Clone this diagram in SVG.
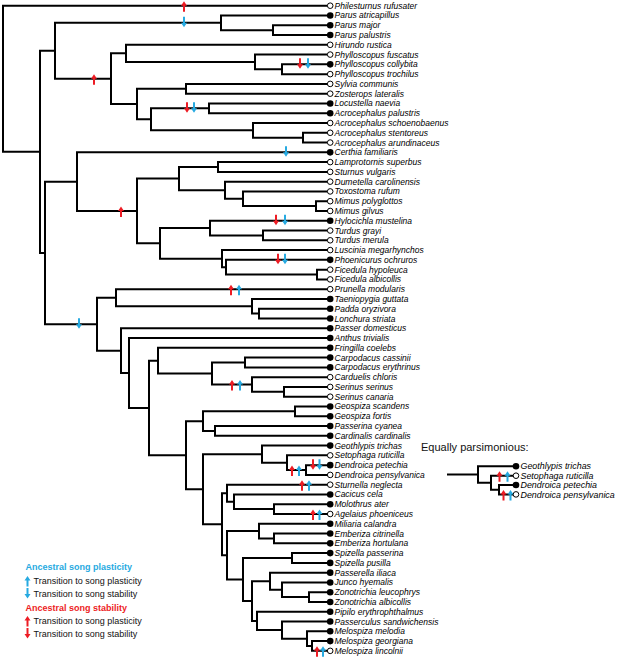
<svg xmlns="http://www.w3.org/2000/svg" xmlns:xlink="http://www.w3.org/1999/xlink" width="617" height="659" viewBox="0 0 617 659">
<style>
.br{fill:none;stroke:#000;stroke-width:2;stroke-linecap:square;stroke-linejoin:miter}
.lab{font-family:"Liberation Sans",Arial,sans-serif;font-style:italic;font-size:8.5px;fill:#000}
.ilab{font-family:"Liberation Sans",Arial,sans-serif;font-style:italic;font-size:8.9px;fill:#000}
.f{fill:#000;stroke:none}
.o{fill:#fff;stroke:#000;stroke-width:1}
.r{fill:#ed1c24}
.c{fill:#27aae1}
.leg{font-family:"Liberation Sans",Arial,sans-serif;font-size:9px;fill:#111}
.legh{font-family:"Liberation Sans",Arial,sans-serif;font-size:9px;font-weight:bold}
.title{font-family:"Liberation Sans",Arial,sans-serif;font-size:11px;fill:#111}
</style>
<defs>
<path id="up" d="M0,-4.5 L3,0 H1 V6 H-1 V0 H-3 Z"/>
<path id="dn" d="M0,4.5 L3,0 H1 V-6 H-1 V0 H-3 Z"/>
</defs>
<rect width="617" height="659" fill="#fff"/>
<g id="connectors" class="br">
<path d="M327,5.7 H3 V151.84 H40"/>
<path d="M55,50.76 H40 V252.92 H45"/>
<path d="M221,22.81 H55 V78.71 H111"/>
<path d="M327,15.48 H221 V30.14 H273"/>
<path d="M327,25.25 H273 V35.03 H327"/>
<path d="M126,53.36 H111 V104.06 H137"/>
<path d="M327,44.8 H126 V61.91 H255"/>
<path d="M327,54.58 H255 V69.24 H282"/>
<path d="M327,64.35 H282 V74.13 H327"/>
<path d="M186,88.79 H137 V119.34 H151"/>
<path d="M327,83.9 H186 V93.68 H327"/>
<path d="M209,108.34 H151 V130.33 H253"/>
<path d="M327,103.45 H209 V113.23 H327"/>
<path d="M327,123 H253 V137.67 H303"/>
<path d="M327,132.78 H303 V142.55 H327"/>
<path d="M77,181.66 H45 V324.18 H97"/>
<path d="M327,152.33 H77 V210.98 H137"/>
<path d="M179,178.6 H137 V243.36 H160"/>
<path d="M218,166.99 H179 V190.2 H225"/>
<path d="M327,162.1 H218 V171.88 H327"/>
<path d="M327,181.65 H225 V198.76 H243"/>
<path d="M327,191.43 H243 V206.09 H316"/>
<path d="M327,201.2 H316 V210.98 H327"/>
<path d="M210,228.08 H160 V258.63 H222"/>
<path d="M327,220.75 H210 V235.42 H263"/>
<path d="M327,230.53 H263 V240.3 H327"/>
<path d="M327,250.08 H222 V267.18 H226"/>
<path d="M327,259.85 H226 V274.52 H317"/>
<path d="M327,269.63 H317 V279.4 H327"/>
<path d="M116,297.73 H97 V350.63 H121"/>
<path d="M327,289.18 H116 V306.28 H252"/>
<path d="M327,298.95 H252 V313.62 H259"/>
<path d="M327,308.73 H259 V318.5 H327"/>
<path d="M327,328.28 H121 V372.98 H129"/>
<path d="M327,338.05 H129 V407.92 H149"/>
<path d="M158,360.66 H149 V455.17 H186"/>
<path d="M327,347.83 H158 V373.49 H212"/>
<path d="M245,362.49 H212 V384.48 H252"/>
<path d="M327,357.6 H245 V367.38 H327"/>
<path d="M327,377.15 H252 V391.82 H284"/>
<path d="M327,386.93 H284 V396.7 H327"/>
<path d="M203,421.14 H186 V489.2 H203"/>
<path d="M295,411.37 H203 V430.92 H215"/>
<path d="M327,406.48 H295 V416.25 H327"/>
<path d="M327,426.03 H215 V435.8 H327"/>
<path d="M262,454.13 H203 V524.28 H222"/>
<path d="M327,445.58 H262 V462.68 H287"/>
<path d="M327,455.35 H287 V470.02 H306"/>
<path d="M327,465.13 H306 V474.9 H327"/>
<path d="M227,493.23 H222 V555.32 H227"/>
<path d="M327,484.68 H227 V501.78 H234"/>
<path d="M327,494.45 H234 V509.12 H274"/>
<path d="M327,504.23 H274 V514 H327"/>
<path d="M259,531.11 H227 V579.52 H243"/>
<path d="M327,523.78 H259 V538.44 H274"/>
<path d="M327,533.55 H274 V543.33 H327"/>
<path d="M292,557.99 H243 V601.06 H252"/>
<path d="M327,553.1 H292 V562.88 H327"/>
<path d="M270,581.2 H252 V620.92 H257"/>
<path d="M327,572.65 H270 V589.76 H282"/>
<path d="M327,582.43 H282 V597.09 H309"/>
<path d="M327,592.2 H309 V601.98 H327"/>
<path d="M327,611.75 H257 V630.08 H282"/>
<path d="M327,621.53 H282 V638.63 H307"/>
<path d="M327,631.3 H307 V645.97 H312"/>
<path d="M327,641.08 H312 V650.85 H327"/>
</g>
<g id="arrows">
<use href="#up" class="r" x="184" y="5.7"/>
<use href="#dn" class="c" x="184" y="22.81"/>
<use href="#up" class="r" x="94" y="78.71"/>
<use href="#dn" class="r" x="300" y="64.35"/>
<use href="#dn" class="c" x="308" y="64.35"/>
<use href="#dn" class="r" x="187" y="108.34"/>
<use href="#dn" class="c" x="194" y="108.34"/>
<use href="#dn" class="c" x="286" y="152.33"/>
<use href="#up" class="r" x="121" y="210.98"/>
<use href="#dn" class="r" x="276" y="220.75"/>
<use href="#dn" class="c" x="285" y="220.75"/>
<use href="#dn" class="r" x="278" y="259.85"/>
<use href="#dn" class="c" x="285" y="259.85"/>
<use href="#up" class="r" x="231" y="289.18"/>
<use href="#up" class="c" x="239" y="289.18"/>
<use href="#dn" class="c" x="79" y="324.18"/>
<use href="#up" class="r" x="232" y="384.48"/>
<use href="#up" class="c" x="240" y="384.48"/>
<use href="#up" class="r" x="292" y="470.02"/>
<use href="#up" class="c" x="299" y="470.02"/>
<use href="#dn" class="r" x="313" y="465.13"/>
<use href="#dn" class="c" x="319.5" y="465.13"/>
<use href="#up" class="r" x="302" y="484.68"/>
<use href="#up" class="c" x="309" y="484.68"/>
<use href="#up" class="r" x="313" y="514"/>
<use href="#up" class="c" x="319.5" y="514"/>
<use href="#up" class="r" x="317" y="650.85"/>
<use href="#up" class="c" x="323" y="650.85"/>
</g>
<g class="lab">
<g id="t0"><circle class="o" cx="330.2" cy="5.7" r="2.8"/><text x="334.5" y="8.7">Philesturnus rufusater</text></g>
<g id="t1"><circle class="f" cx="330.2" cy="15.48" r="3.3"/><text x="334.5" y="18.48">Parus atricapillus</text></g>
<g id="t2"><circle class="f" cx="330.2" cy="25.25" r="3.3"/><text x="334.5" y="28.25">Parus major</text></g>
<g id="t3"><circle class="f" cx="330.2" cy="35.03" r="3.3"/><text x="334.5" y="38.03">Parus palustris</text></g>
<g id="t4"><circle class="o" cx="330.2" cy="44.8" r="2.8"/><text x="334.5" y="47.8">Hirundo rustica</text></g>
<g id="t5"><circle class="o" cx="330.2" cy="54.58" r="2.8"/><text x="334.5" y="57.58">Phylloscopus fuscatus</text></g>
<g id="t6"><circle class="f" cx="330.2" cy="64.35" r="3.3"/><text x="334.5" y="67.35">Phylloscopus collybita</text></g>
<g id="t7"><circle class="o" cx="330.2" cy="74.13" r="2.8"/><text x="334.5" y="77.13">Phylloscopus trochilus</text></g>
<g id="t8"><circle class="o" cx="330.2" cy="83.9" r="2.8"/><text x="334.5" y="86.9">Sylvia communis</text></g>
<g id="t9"><circle class="o" cx="330.2" cy="93.68" r="2.8"/><text x="334.5" y="96.68">Zosterops lateralis</text></g>
<g id="t10"><circle class="f" cx="330.2" cy="103.45" r="3.3"/><text x="334.5" y="106.45">Locustella naevia</text></g>
<g id="t11"><circle class="f" cx="330.2" cy="113.23" r="3.3"/><text x="334.5" y="116.23">Acrocephalus palustris</text></g>
<g id="t12"><circle class="o" cx="330.2" cy="123" r="2.8"/><text x="334.5" y="126">Acrocephalus schoenobaenus</text></g>
<g id="t13"><circle class="o" cx="330.2" cy="132.78" r="2.8"/><text x="334.5" y="135.78">Acrocephalus stentoreus</text></g>
<g id="t14"><circle class="o" cx="330.2" cy="142.55" r="2.8"/><text x="334.5" y="145.55">Acrocephalus arundinaceus</text></g>
<g id="t15"><circle class="f" cx="330.2" cy="152.33" r="3.3"/><text x="334.5" y="155.33">Certhia familiaris</text></g>
<g id="t16"><circle class="o" cx="330.2" cy="162.1" r="2.8"/><text x="334.5" y="165.1">Lamprotornis superbus</text></g>
<g id="t17"><circle class="o" cx="330.2" cy="171.88" r="2.8"/><text x="334.5" y="174.88">Sturnus vulgaris</text></g>
<g id="t18"><circle class="o" cx="330.2" cy="181.65" r="2.8"/><text x="334.5" y="184.65">Dumetella carolinensis</text></g>
<g id="t19"><circle class="o" cx="330.2" cy="191.43" r="2.8"/><text x="334.5" y="194.43">Toxostoma rufum</text></g>
<g id="t20"><circle class="o" cx="330.2" cy="201.2" r="2.8"/><text x="334.5" y="204.2">Mimus polyglottos</text></g>
<g id="t21"><circle class="o" cx="330.2" cy="210.98" r="2.8"/><text x="334.5" y="213.98">Mimus gilvus</text></g>
<g id="t22"><circle class="f" cx="330.2" cy="220.75" r="3.3"/><text x="334.5" y="223.75">Hylocichla mustelina</text></g>
<g id="t23"><circle class="o" cx="330.2" cy="230.53" r="2.8"/><text x="334.5" y="233.53">Turdus grayi</text></g>
<g id="t24"><circle class="o" cx="330.2" cy="240.3" r="2.8"/><text x="334.5" y="243.3">Turdus merula</text></g>
<g id="t25"><circle class="o" cx="330.2" cy="250.08" r="2.8"/><text x="334.5" y="253.08">Luscinia megarhynchos</text></g>
<g id="t26"><circle class="f" cx="330.2" cy="259.85" r="3.3"/><text x="334.5" y="262.85">Phoenicurus ochruros</text></g>
<g id="t27"><circle class="o" cx="330.2" cy="269.63" r="2.8"/><text x="334.5" y="272.63">Ficedula hypoleuca</text></g>
<g id="t28"><circle class="o" cx="330.2" cy="279.4" r="2.8"/><text x="334.5" y="282.4">Ficedula albicollis</text></g>
<g id="t29"><circle class="o" cx="330.2" cy="289.18" r="2.8"/><text x="334.5" y="292.18">Prunella modularis</text></g>
<g id="t30"><circle class="f" cx="330.2" cy="298.95" r="3.3"/><text x="334.5" y="301.95">Taeniopygia guttata</text></g>
<g id="t31"><circle class="f" cx="330.2" cy="308.73" r="3.3"/><text x="334.5" y="311.73">Padda oryzivora</text></g>
<g id="t32"><circle class="f" cx="330.2" cy="318.5" r="3.3"/><text x="334.5" y="321.5">Lonchura striata</text></g>
<g id="t33"><circle class="f" cx="330.2" cy="328.28" r="3.3"/><text x="334.5" y="331.28">Passer domesticus</text></g>
<g id="t34"><circle class="f" cx="330.2" cy="338.05" r="3.3"/><text x="334.5" y="341.05">Anthus trivialis</text></g>
<g id="t35"><circle class="f" cx="330.2" cy="347.83" r="3.3"/><text x="334.5" y="350.83">Fringilla coelebs</text></g>
<g id="t36"><circle class="f" cx="330.2" cy="357.6" r="3.3"/><text x="334.5" y="360.6">Carpodacus cassinii</text></g>
<g id="t37"><circle class="f" cx="330.2" cy="367.38" r="3.3"/><text x="334.5" y="370.38">Carpodacus erythrinus</text></g>
<g id="t38"><circle class="o" cx="330.2" cy="377.15" r="2.8"/><text x="334.5" y="380.15">Carduelis chloris</text></g>
<g id="t39"><circle class="o" cx="330.2" cy="386.93" r="2.8"/><text x="334.5" y="389.93">Serinus serinus</text></g>
<g id="t40"><circle class="o" cx="330.2" cy="396.7" r="2.8"/><text x="334.5" y="399.7">Serinus canaria</text></g>
<g id="t41"><circle class="f" cx="330.2" cy="406.48" r="3.3"/><text x="334.5" y="409.48">Geospiza scandens</text></g>
<g id="t42"><circle class="f" cx="330.2" cy="416.25" r="3.3"/><text x="334.5" y="419.25">Geospiza fortis</text></g>
<g id="t43"><circle class="f" cx="330.2" cy="426.03" r="3.3"/><text x="334.5" y="429.03">Passerina cyanea</text></g>
<g id="t44"><circle class="f" cx="330.2" cy="435.8" r="3.3"/><text x="334.5" y="438.8">Cardinalis cardinalis</text></g>
<g id="t45"><circle class="f" cx="330.2" cy="445.58" r="3.3"/><text x="334.5" y="448.58">Geothlypis trichas</text></g>
<g id="t46"><circle class="o" cx="330.2" cy="455.35" r="2.8"/><text x="334.5" y="458.35">Setophaga ruticilla</text></g>
<g id="t47"><circle class="f" cx="330.2" cy="465.13" r="3.3"/><text x="334.5" y="468.13">Dendroica petechia</text></g>
<g id="t48"><circle class="o" cx="330.2" cy="474.9" r="2.8"/><text x="334.5" y="477.9">Dendroica pensylvanica</text></g>
<g id="t49"><circle class="o" cx="330.2" cy="484.68" r="2.8"/><text x="334.5" y="487.68">Sturnella neglecta</text></g>
<g id="t50"><circle class="f" cx="330.2" cy="494.45" r="3.3"/><text x="334.5" y="497.45">Cacicus cela</text></g>
<g id="t51"><circle class="f" cx="330.2" cy="504.23" r="3.3"/><text x="334.5" y="507.23">Molothrus ater</text></g>
<g id="t52"><circle class="o" cx="330.2" cy="514" r="2.8"/><text x="334.5" y="517">Agelaius phoeniceus</text></g>
<g id="t53"><circle class="f" cx="330.2" cy="523.78" r="3.3"/><text x="334.5" y="526.78">Miliaria calandra</text></g>
<g id="t54"><circle class="f" cx="330.2" cy="533.55" r="3.3"/><text x="334.5" y="536.55">Emberiza citrinella</text></g>
<g id="t55"><circle class="f" cx="330.2" cy="543.33" r="3.3"/><text x="334.5" y="546.33">Emberiza hortulana</text></g>
<g id="t56"><circle class="f" cx="330.2" cy="553.1" r="3.3"/><text x="334.5" y="556.1">Spizella passerina</text></g>
<g id="t57"><circle class="f" cx="330.2" cy="562.88" r="3.3"/><text x="334.5" y="565.88">Spizella pusilla</text></g>
<g id="t58"><circle class="f" cx="330.2" cy="572.65" r="3.3"/><text x="334.5" y="575.65">Passerella iliaca</text></g>
<g id="t59"><circle class="f" cx="330.2" cy="582.43" r="3.3"/><text x="334.5" y="585.43">Junco hyemalis</text></g>
<g id="t60"><circle class="f" cx="330.2" cy="592.2" r="3.3"/><text x="334.5" y="595.2">Zonotrichia leucophrys</text></g>
<g id="t61"><circle class="f" cx="330.2" cy="601.98" r="3.3"/><text x="334.5" y="604.98">Zonotrichia albicollis</text></g>
<g id="t62"><circle class="f" cx="330.2" cy="611.75" r="3.3"/><text x="334.5" y="614.75">Pipilo erythrophthalmus</text></g>
<g id="t63"><circle class="f" cx="330.2" cy="621.53" r="3.3"/><text x="334.5" y="624.53">Passerculus sandwichensis</text></g>
<g id="t64"><circle class="f" cx="330.2" cy="631.3" r="3.3"/><text x="334.5" y="634.3">Melospiza melodia</text></g>
<g id="t65"><circle class="f" cx="330.2" cy="641.08" r="3.3"/><text x="334.5" y="644.08">Melospiza georgiana</text></g>
<g id="t66"><circle class="o" cx="330.2" cy="650.85" r="2.8"/><text x="334.5" y="653.85">Melospiza lincolnii</text></g>
</g>
<g id="inset">
<text class="title" x="421" y="451">Equally parsimonious:</text>
<g id="inset-connectors" class="br">
<path d="M448,474.5 H478"/>
<path d="M513,466.3 H478 V482.7 H491"/>
<path d="M513,475.7 H491 V489.7 H499"/>
<path d="M513,485 H499 V494.4 H513"/>
</g>
<use href="#up" class="r" x="499.5" y="475.7"/>
<use href="#up" class="c" x="507.5" y="475.7"/>
<use href="#up" class="r" x="503.5" y="494.4"/>
<use href="#up" class="c" x="510.5" y="494.4"/>
<g class="ilab">
<g id="i0"><circle class="f" cx="516" cy="466.3" r="3.3"/><text x="520.5" y="469.4">Geothlypis trichas</text></g>
<g id="i1"><circle class="o" cx="516" cy="475.7" r="2.8"/><text x="520.5" y="478.8">Setophaga ruticilla</text></g>
<g id="i2"><circle class="f" cx="516" cy="485" r="3.3"/><text x="520.5" y="488.1">Dendroica petechia</text></g>
<g id="i3"><circle class="o" cx="516" cy="494.4" r="2.8"/><text x="520.5" y="497.5">Dendroica pensylvanica</text></g>
</g>
</g>
<g id="legend">
<text class="legh" x="25.5" y="570" fill="#27aae1">Ancestral song plasticity</text>
<use href="#up" class="c" x="27.5" y="580.5"/>
<text class="leg" x="33.5" y="584">Transition to song plasticity</text>
<use href="#dn" class="c" x="27.5" y="594"/>
<text class="leg" x="33.5" y="597.3">Transition to song stability</text>
<text class="legh" x="25.5" y="610.6" fill="#ed1c24">Ancestral song stability</text>
<use href="#up" class="r" x="27.5" y="620.5"/>
<text class="leg" x="33.5" y="624">Transition to song plasticity</text>
<use href="#dn" class="r" x="27.5" y="634"/>
<text class="leg" x="33.5" y="637.3">Transition to song stability</text>
</g>
</svg>
